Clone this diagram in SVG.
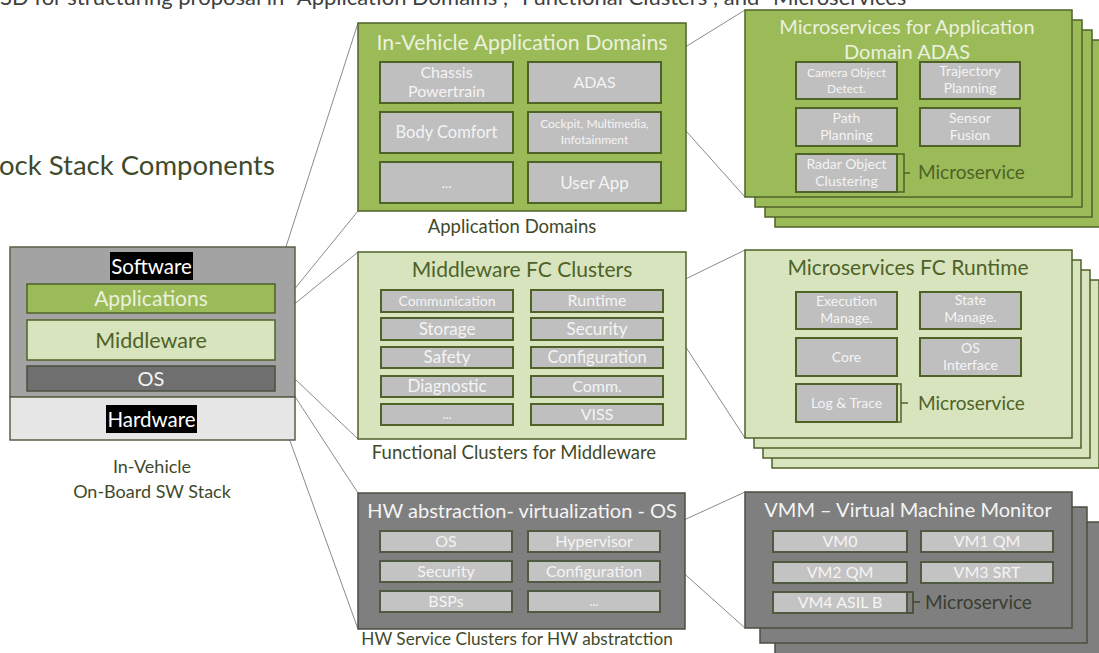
<svg xmlns="http://www.w3.org/2000/svg" width="1099" height="653" viewBox="0 0 1099 653">
<style>
text{font-family:Lato,"Open Sans","Liberation Sans",sans-serif}
.c{text-anchor:middle}
.gd{fill:#9bbb59;stroke:#4f6228;stroke-width:1.5}
.gl{fill:#d7e4bd;stroke:#4f6228;stroke-width:1.5}
.dk{fill:#7f7f7f;stroke:#4a4f40;stroke-width:1.5}
.ib{fill:#bfbfbf;stroke:#4f6228;stroke-width:2}
.ibh{fill:#c3c3c3;stroke:#505a40;stroke-width:2}
.tw{fill:#f4f4f4}
.tt{fill:#ebf1de}
.to{fill:#4f6228}
.lab{fill:#3f4a2a;font-size:18.5px}
.br{fill:none;stroke:#4f6228;stroke-width:1.5}
.cn line{stroke:#8a8a8a;stroke-width:1}
</style>

<text x="0" y="5" style="fill:#404040;font-size:22px">SD for structuring proposal in "Application Domains", "Functional Clusters", and "Microservices"</text>
<text x="-1" y="175" style="fill:#3f4a2a;font-size:27.5px">ock Stack Components</text>

<g class="cn">
<line x1="274" y1="284" x2="358" y2="23"/>
<line x1="275" y1="313" x2="358" y2="211"/>
<line x1="275" y1="320" x2="358" y2="252"/>
<line x1="275" y1="360" x2="358" y2="439"/>
<line x1="275" y1="366" x2="358" y2="493"/>
<line x1="272" y1="391" x2="358" y2="629"/>
<line x1="661" y1="62" x2="745" y2="10"/>
<line x1="661" y1="103" x2="745" y2="197"/>
<line x1="663" y1="290" x2="745" y2="250"/>
<line x1="663" y1="312" x2="745" y2="438"/>
<line x1="660" y1="531" x2="745" y2="492"/>
<line x1="660" y1="552" x2="745" y2="628"/>
</g>

<g id="stack">
<rect x="10" y="247" width="285" height="150" style="fill:#a3a3a3;stroke:#5a6048;stroke-width:1.5"/>
<rect x="10" y="397" width="285" height="43" style="fill:#e6e6e6;stroke:#5a6048;stroke-width:1.5"/>
<rect x="110" y="252" width="83" height="28" fill="#000"/>
<text class="c" x="151.5" y="274" style="fill:#fff;font-size:20.5px">Software</text>
<rect x="27" y="284" width="248" height="29" class="gd"/>
<text class="c tt" x="151" y="306" style="font-size:21px">Applications</text>
<rect x="27" y="320" width="248" height="40" class="gl"/>
<text class="c to" x="151" y="348" style="font-size:21.5px">Middleware</text>
<rect x="27" y="366" width="248" height="25" class="dk" style="fill:#6f6f6f"/>
<text class="c tw" x="151" y="386" style="font-size:20px">OS</text>
<rect x="106" y="405" width="91" height="28" fill="#000"/>
<text class="c" x="151.5" y="427" style="fill:#fff;font-size:20.5px">Hardware</text>
<text class="c" x="152" y="473" style="fill:#3f4a2a;font-size:18px">In-Vehicle</text>
<text class="c" x="152" y="498" style="fill:#3f4a2a;font-size:18px">On-Board SW Stack</text>
</g>

<g id="app-domains">
<rect x="358" y="23" width="328" height="188" class="gd"/>
<text class="c tt" x="522" y="50" style="font-size:21.3px">In-Vehicle Application Domains</text>
<rect x="380" y="62" width="133" height="41" class="ib"/>
<text class="c tw" x="446.5" y="78" style="font-size:16px">Chassis</text>
<text class="c tw" x="446.5" y="97" style="font-size:16px">Powertrain</text>
<rect x="528" y="62" width="133" height="41" class="ib"/>
<text class="c tw" x="594.5" y="88" style="font-size:16px">ADAS</text>
<rect x="380" y="112" width="133" height="41" class="ib"/>
<text class="c tw" x="446.5" y="138" style="font-size:16.5px">Body Comfort</text>
<rect x="528" y="112" width="133" height="41" class="ib"/>
<text class="c tw" x="594.5" y="128" style="font-size:12px">Cockpit, Multimedia,</text>
<text class="c tw" x="594.5" y="144" style="font-size:12px">Infotainment</text>
<rect x="380" y="162" width="133" height="41" class="ib"/>
<text class="c tw" x="446.5" y="188" style="font-size:14px">...</text>
<rect x="528" y="162" width="133" height="41" class="ib"/>
<text class="c tw" x="594.5" y="189" style="font-size:17px">User App</text>
<text class="c lab" x="512" y="233">Application Domains</text>
</g>

<g id="ms-adas">
<rect x="775" y="40" width="327" height="187" class="gd"/>
<rect x="765" y="30" width="327" height="187" class="gd"/>
<rect x="755" y="20" width="327" height="187" class="gd"/>
<rect x="745" y="10" width="327" height="187" class="gd"/>
<text class="c tt" x="907" y="34" style="font-size:20px">Microservices for Application</text>
<text class="c tt" x="907" y="59" style="font-size:20px">Domain ADAS</text>
<rect x="796" y="62" width="101" height="37" class="ib"/>
<text class="c tw" x="846.5" y="77" style="font-size:12px">Camera Object</text>
<text class="c tw" x="846.5" y="93" style="font-size:12px">Detect.</text>
<rect x="920" y="62" width="100" height="37" class="ib"/>
<text class="c tw" x="970" y="76" style="font-size:14px">Trajectory</text>
<text class="c tw" x="970" y="93" style="font-size:14px">Planning</text>
<rect x="796" y="108" width="101" height="38" class="ib"/>
<text class="c tw" x="846.5" y="123" style="font-size:14px">Path</text>
<text class="c tw" x="846.5" y="140" style="font-size:14px">Planning</text>
<rect x="920" y="108" width="100" height="38" class="ib"/>
<text class="c tw" x="970" y="123" style="font-size:14px">Sensor</text>
<text class="c tw" x="970" y="140" style="font-size:14px">Fusion</text>
<rect x="796" y="154" width="101" height="38" class="ib"/>
<text class="c tw" x="846.5" y="169" style="font-size:14px">Radar Object</text>
<text class="c tw" x="846.5" y="186" style="font-size:14px">Clustering</text>
<path d="M897,154H904V192H897M904,173H910" class="br"/>
<text x="918" y="179" class="to" style="font-size:19px">Microservice</text>
</g>

<g id="mw-clusters">
<rect x="358" y="252" width="328" height="187" class="gl"/>
<text class="c to" x="522" y="277" style="font-size:21px">Middleware FC Clusters</text>
<rect x="381" y="290" width="132" height="22" class="ib"/>
<text class="c tw" x="447" y="306" style="font-size:14px">Communication</text>
<rect x="531" y="290" width="132" height="22" class="ib"/>
<text class="c tw" x="597" y="306" style="font-size:16px">Runtime</text>
<rect x="381" y="318" width="132" height="22" class="ib"/>
<text class="c tw" x="447" y="335" style="font-size:17px">Storage</text>
<rect x="531" y="318" width="132" height="22" class="ib"/>
<text class="c tw" x="597" y="335" style="font-size:17px">Security</text>
<rect x="381" y="347" width="132" height="21" class="ib"/>
<text class="c tw" x="447" y="363" style="font-size:17px">Safety</text>
<rect x="531" y="347" width="132" height="21" class="ib"/>
<text class="c tw" x="597" y="363" style="font-size:16.5px">Configuration</text>
<rect x="381" y="376" width="132" height="21" class="ib"/>
<text class="c tw" x="447" y="392" style="font-size:17px">Diagnostic</text>
<rect x="531" y="376" width="132" height="21" class="ib"/>
<text class="c tw" x="597" y="392" style="font-size:16px">Comm.</text>
<rect x="381" y="404" width="132" height="21" class="ib"/>
<text class="c tw" x="447" y="419" style="font-size:13px">...</text>
<rect x="531" y="404" width="132" height="21" class="ib"/>
<text class="c tw" x="597" y="420" style="font-size:16px">VISS</text>
<text class="c lab" x="514" y="459">Functional Clusters for Middleware</text>
</g>

<g id="ms-runtime">
<rect x="772" y="280" width="327" height="188" class="gl"/>
<rect x="763" y="270" width="327" height="188" class="gl"/>
<rect x="754" y="260" width="327" height="188" class="gl"/>
<rect x="745" y="250" width="327" height="188" class="gl"/>
<text class="c to" x="908" y="275" style="font-size:21px">Microservices FC Runtime</text>
<rect x="796" y="292" width="101" height="37" class="ib"/>
<text class="c tw" x="846.5" y="306" style="font-size:14px">Execution</text>
<text class="c tw" x="846.5" y="323" style="font-size:14px">Manage.</text>
<rect x="920" y="292" width="101" height="37" class="ib"/>
<text class="c tw" x="970.5" y="305" style="font-size:14px">State</text>
<text class="c tw" x="970.5" y="322" style="font-size:14px">Manage.</text>
<rect x="796" y="338" width="101" height="38" class="ib"/>
<text class="c tw" x="846.5" y="362" style="font-size:14px">Core</text>
<rect x="920" y="338" width="101" height="38" class="ib"/>
<text class="c tw" x="970.5" y="353" style="font-size:14px">OS</text>
<text class="c tw" x="970.5" y="370" style="font-size:14px">Interface</text>
<rect x="796" y="384" width="101" height="38" class="ib"/>
<text class="c tw" x="846.5" y="408" style="font-size:14px">Log &amp; Trace</text>
<path d="M897,384H901V422H897M901,403H908" class="br"/>
<text x="918" y="410" class="to" style="font-size:19px">Microservice</text>
</g>

<g id="hw-os">
<rect x="358" y="493" width="327" height="136" class="dk"/>
<text class="c tw" x="522" y="518" style="font-size:20px">HW abstraction- virtualization - OS</text>
<rect x="380" y="531" width="132" height="21" class="ibh"/>
<text class="c tw" x="446" y="547" style="font-size:16px">OS</text>
<rect x="528" y="531" width="132" height="21" class="ibh"/>
<text class="c tw" x="594" y="547" style="font-size:16px">Hypervisor</text>
<rect x="380" y="561" width="132" height="21" class="ibh"/>
<text class="c tw" x="446" y="577" style="font-size:16px">Security</text>
<rect x="528" y="561" width="132" height="21" class="ibh"/>
<text class="c tw" x="594" y="577" style="font-size:16px">Configuration</text>
<rect x="380" y="591" width="132" height="21" class="ibh"/>
<text class="c tw" x="446" y="607" style="font-size:16px">BSPs</text>
<rect x="528" y="591" width="132" height="21" class="ibh"/>
<text class="c tw" x="594" y="606" style="font-size:13px">...</text>
<text class="c lab" x="517" y="645" style="font-size:17.2px">HW Service Clusters for HW abstratction</text>
</g>

<g id="vmm">
<rect x="775" y="522" width="327" height="136" class="dk"/>
<rect x="760" y="507" width="327" height="136" class="dk"/>
<rect x="745" y="492" width="327" height="136" class="dk"/>
<text class="c tw" x="908" y="517" style="font-size:20px">VMM – Virtual Machine Monitor</text>
<rect x="773" y="531" width="134" height="21" class="ibh"/>
<text class="c tw" x="840" y="547" style="font-size:16px">VM0</text>
<rect x="921" y="531" width="132" height="21" class="ibh"/>
<text class="c tw" x="987" y="547" style="font-size:16px">VM1 QM</text>
<rect x="773" y="562" width="134" height="21" class="ibh"/>
<text class="c tw" x="840" y="578" style="font-size:16px">VM2 QM</text>
<rect x="921" y="562" width="132" height="21" class="ibh"/>
<text class="c tw" x="987" y="578" style="font-size:16px">VM3 SRT</text>
<rect x="773" y="592" width="134" height="21" class="ibh"/>
<text class="c tw" x="840" y="608" style="font-size:16px">VM4 ASIL B</text>
<path d="M907,592H913V613H907M913,602H920" class="br" style="stroke:#3f4530"/>
<text x="925" y="609" style="fill:#3a3d30;font-size:19px">Microservice</text>
</g>
</svg>
